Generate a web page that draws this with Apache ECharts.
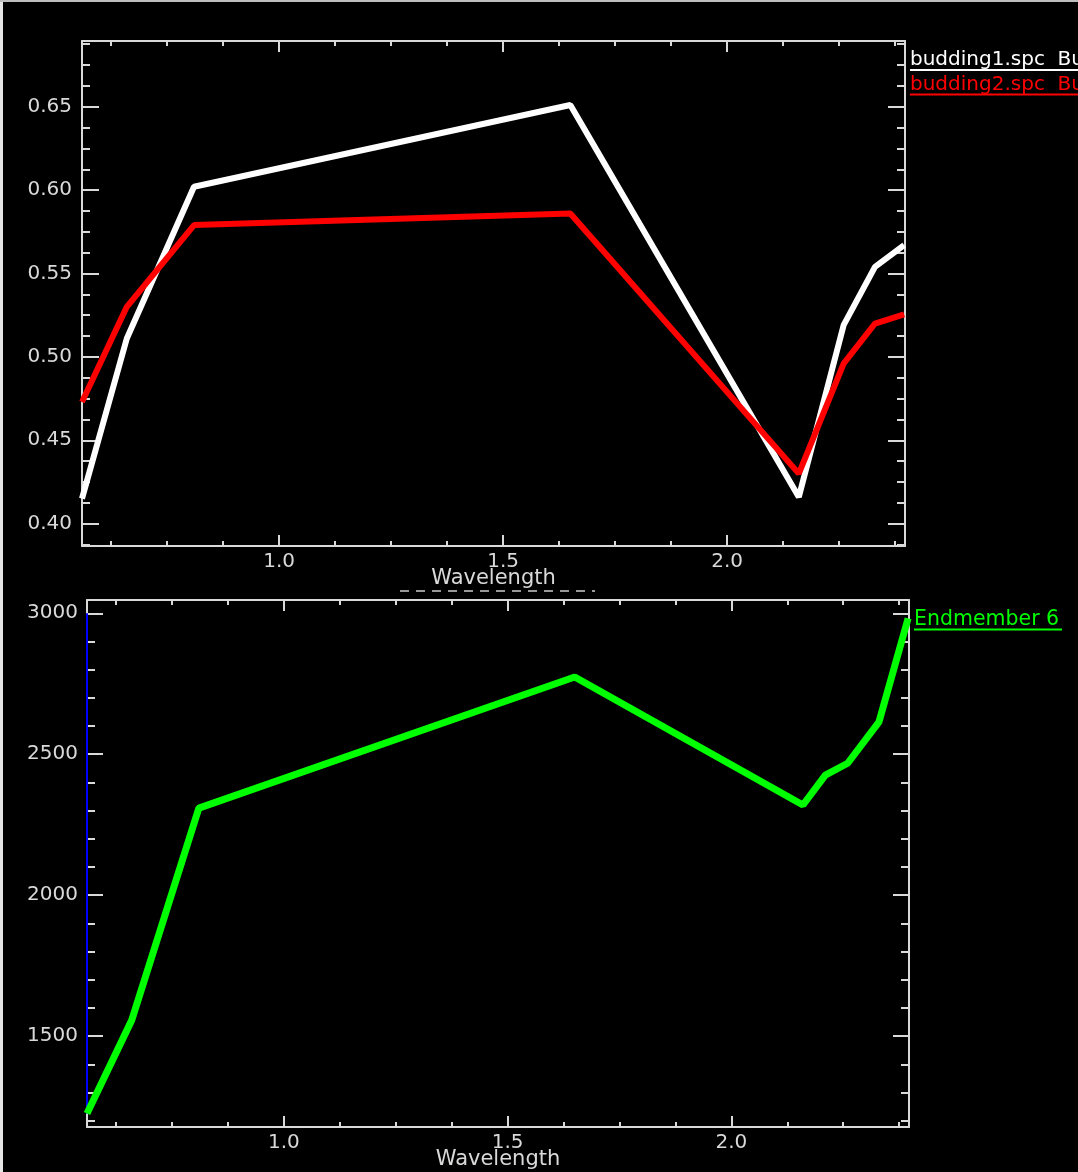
<!DOCTYPE html>
<html>
<head>
<meta charset="utf-8">
<script src="https://cdn.jsdelivr.net/npm/echarts@6/dist/echarts.min.js"></script>
<style>
html,body{margin:0;padding:0;background:#000;}
#chart{width:1078px;height:1172px;}
</style>
</head>
<body>
<div id="chart"></div>
<script>
// ---------- DATA ----------
var topWavelength = [0.56, 0.66, 0.81, 1.65, 2.16, 2.26, 2.33, 2.395];
var budding1 = [0.415, 0.511, 0.602, 0.651, 0.416, 0.519, 0.554, 0.567];
var budding2 = [0.473, 0.530, 0.579, 0.586, 0.430, 0.496, 0.520, 0.5255];

var botWavelength = [0.56, 0.66, 0.81, 1.65, 2.16, 2.21, 2.26, 2.33, 2.395];
var endmember6 = [1226, 1557, 2309, 2774, 2320, 2426, 2468, 2615, 2982];

var markerX = [0.56, 0.56];
var markerY = [3000, 1226];

var xMajorTicks = [1.0, 1.5, 2.0];
var topYMajorTicks = [0.40, 0.45, 0.50, 0.55, 0.60, 0.65];
var botYMajorTicks = [1500, 2000, 2500, 3000];

var xRange = [0.56, 2.397];
var topYRange = [0.3866, 0.6894];
var botYRange = [1178, 3047];

var legendTop = ['budding1.spc  Bu', 'budding2.spc  Bu'];
var legendBot = ['Endmember 6'];
var xTitle = 'Wavelength';

// ---------- helpers ----------
function steps(start, end, step) {
  var out = [];
  var n = Math.round((end - start) / step);
  for (var i = 0; i <= n; i++) out.push(+(start + i * step).toFixed(6));
  return out;
}
var xMinorTicks = steps(0.625, 2.375, 0.125);
var topYMinorTicks = steps(0.3875, 0.6875, 0.0125);
var botYMinorTicks = steps(1200, 3000, 100);

function zip(a, b) { return a.map(function (v, i) { return [v, b[i]]; }); }

var AX = '#d9d9d9';
var FONT = 'DejaVu Sans';

function mkAxes(dim, grid, range, majors, minors, majLen, minLen, labelFmt, opts) {
  var posA = dim === 'x' ? 'bottom' : 'left';
  var posB = dim === 'x' ? 'top' : 'right';
  var list = [];
  var specs = [
    {pos: posA, vals: majors, len: majLen, primary: true},
    {pos: posA, vals: minors, len: minLen},
    {pos: posB, vals: majors, len: majLen, line: true},
    {pos: posB, vals: minors, len: minLen}
  ];
  specs.forEach(function (s) {
    var a = {
      type: 'value', gridIndex: grid, position: s.pos,
      min: range[0], max: range[1],
      splitLine: {show: false},
      axisLine: {show: !!(s.primary || s.line), onZero: false, lineStyle: {color: AX, width: 2}},
      axisTick: {show: true, inside: true, length: s.len, customValues: s.vals,
                 lineStyle: {color: AX, width: 2}},
      axisLabel: {show: false}
    };
    if (s.primary) {
      a.axisLabel = {show: true, customValues: majors, color: AX, fontFamily: FONT,
                     fontSize: 20, margin: opts.margin, formatter: labelFmt};
      if (opts.name) {
        a.name = opts.name; a.nameLocation = 'middle'; a.nameGap = opts.nameGap;
        a.nameMoveOverlap = false;
        a.nameTextStyle = {color: AX, fontFamily: FONT, fontSize: 21};
      }
    }
    list.push(a);
  });
  return list;
}

var xAxes = [].concat(
  mkAxes('x', 0, xRange, xMajorTicks, xMinorTicks, 11, 5, function (v) { return v.toFixed(1); }, {margin: 6, name: xTitle, nameGap: 22}),
  mkAxes('x', 1, xRange, xMajorTicks, xMinorTicks, 11, 5, function (v) { return v.toFixed(1); }, {margin: 6, name: xTitle, nameGap: 22})
);
var yAxes = [].concat(
  mkAxes('y', 0, topYRange, topYMajorTicks, topYMinorTicks, 17, 8, function (v) { return v.toFixed(2); }, {margin: 10}),
  mkAxes('y', 1, botYRange, botYMajorTicks, botYMinorTicks, 16, 8, function (v) { return String(Math.round(v)); }, {margin: 9})
);

var chart = echarts.init(document.getElementById('chart'), null, {renderer: 'canvas'});
chart.setOption({
  backgroundColor: '#000000',
  animation: false,
  grid: [
    {left: 82, top: 41, width: 823, height: 505, outerBoundsMode: 'none', containLabel: false},
    {left: 87, top: 600, width: 822, height: 527, outerBoundsMode: 'none', containLabel: false}
  ],
  xAxis: xAxes,
  yAxis: yAxes,
  series: [
    {type: 'line', name: legendTop[0], xAxisIndex: 0, yAxisIndex: 0, data: zip(topWavelength, budding1),
     showSymbol: false, lineStyle: {color: '#ffffff', width: 6}, itemStyle: {color: '#ffffff'}, z: 5},
    {type: 'line', name: legendTop[1], xAxisIndex: 0, yAxisIndex: 0, data: zip(topWavelength, budding2),
     showSymbol: false, lineStyle: {color: '#ff0000', width: 6}, itemStyle: {color: '#ff0000'}, z: 6},
    {type: 'line', name: 'marker', xAxisIndex: 4, yAxisIndex: 4, data: zip(markerX, markerY),
     showSymbol: false, clip: false, lineStyle: {color: '#0000ff', width: 2}, z: 7},
    {type: 'line', name: legendBot[0], xAxisIndex: 4, yAxisIndex: 4, data: zip(botWavelength, endmember6),
     showSymbol: false, lineStyle: {color: '#00ff00', width: 7}, itemStyle: {color: '#00ff00'}, z: 8}
  ],
  graphic: [
    {type: 'rect', shape: {x: 0, y: 0, width: 3, height: 1172}, style: {fill: '#e6e6e6'}, silent: true},
    {type: 'rect', shape: {x: 0, y: 0, width: 1078, height: 2}, style: {fill: '#bdbdbd'}, silent: true},
    {type: 'text', x: 910, y: 50, style: {text: legendTop[0], fill: '#ffffff', font: '20px "DejaVu Sans"', verticalAlign: 'top'}},
    {type: 'line', shape: {x1: 910, y1: 70, x2: 1078, y2: 70}, style: {stroke: '#ffffff', lineWidth: 2}},
    {type: 'text', x: 910, y: 75, style: {text: legendTop[1], fill: '#ff0000', font: '20px "DejaVu Sans"', verticalAlign: 'top'}},
    {type: 'line', shape: {x1: 910, y1: 94.5, x2: 1078, y2: 94.5}, style: {stroke: '#ff0000', lineWidth: 2}},
    {type: 'text', x: 914, y: 609, style: {text: legendBot[0], fill: '#00ff00', font: '20.5px "DejaVu Sans"', verticalAlign: 'top'}},
    {type: 'line', shape: {x1: 914, y1: 629.5, x2: 1062, y2: 629.5}, style: {stroke: '#00ff00', lineWidth: 2}},
    {type: 'line', shape: {x1: 400, y1: 591, x2: 595, y2: 591}, style: {stroke: '#cccccc', lineWidth: 1.5, lineDash: [9, 7]}}
  ]
});
</script>
</body>
</html>
